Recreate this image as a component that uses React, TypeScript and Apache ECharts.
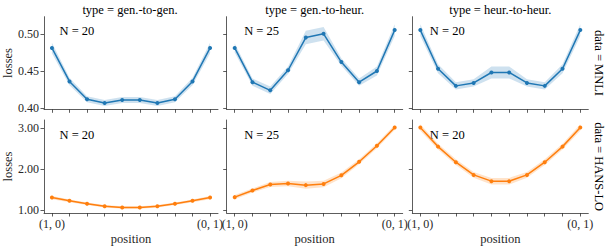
import React, { useEffect, useRef } from "react";
import * as echarts from "echarts";

// ---- data ----
const positions = [0, 1, 2, 3, 4, 5, 6, 7, 8, 9];
const xTickLabels = ["(1, 0)", "(0, 1)"];
const colTitles = ["type = gen.-to-gen.", "type = gen.-to-heur.", "type = heur.-to-heur."];
const rowTitles = ["data = MNLI", "data = HANS-LO"];
const nLabels = ["N = 20", "N = 25", "N = 20"];

const mnliTicks = [0.4, 0.45, 0.5];
const hansTicks = [1.0, 2.0, 3.0];

const mnliGenGen = [0.481, 0.436, 0.412, 0.407, 0.411, 0.411, 0.407, 0.412, 0.436, 0.481];
const mnliGenHeur = [0.481, 0.435, 0.424, 0.451, 0.495, 0.5, 0.462, 0.435, 0.45, 0.505];
const mnliHeurHeur = [0.505, 0.453, 0.43, 0.434, 0.448, 0.448, 0.434, 0.43, 0.453, 0.505];
const hansGenGen = [1.307, 1.227, 1.154, 1.097, 1.064, 1.064, 1.097, 1.154, 1.227, 1.307];
const hansGenHeur = [1.317, 1.48, 1.624, 1.65, 1.61, 1.64, 1.85, 2.18, 2.57, 3.015];
const hansHeurHeur = [3.015, 2.55, 2.17, 1.86, 1.707, 1.707, 1.86, 2.17, 2.55, 3.015];

// confidence band half-widths
const ciMnliGenGen = [0.007, 0.005, 0.004, 0.004, 0.004, 0.004, 0.004, 0.004, 0.005, 0.007];
const ciMnliGenHeur = [0.006, 0.005, 0.005, 0.005, 0.009, 0.009, 0.005, 0.005, 0.006, 0.008];
const ciMnliHeurHeur = [0.008, 0.006, 0.005, 0.005, 0.008, 0.008, 0.005, 0.005, 0.006, 0.008];
const ciHansGenGen = [0.04, 0.035, 0.03, 0.03, 0.03, 0.03, 0.03, 0.03, 0.035, 0.04];
const ciHansGenHeur = [0.05, 0.05, 0.06, 0.07, 0.09, 0.08, 0.07, 0.06, 0.06, 0.06];
const ciHansHeurHeur = [0.08, 0.07, 0.07, 0.07, 0.08, 0.08, 0.07, 0.07, 0.07, 0.08];

const panels = [
  { row: 0, col: 0, values: mnliGenGen, ci: ciMnliGenGen },
  { row: 0, col: 1, values: mnliGenHeur, ci: ciMnliGenHeur },
  { row: 0, col: 2, values: mnliHeurHeur, ci: ciMnliHeurHeur },
  { row: 1, col: 0, values: hansGenGen, ci: ciHansGenGen },
  { row: 1, col: 1, values: hansGenHeur, ci: ciHansGenHeur },
  { row: 1, col: 2, values: hansHeurHeur, ci: ciHansHeurHeur },
];

// ---- layout / style ----
const FONT = "'Liberation Serif', 'Times New Roman', serif";
const TXT = "#262626";
const AXIS = "#333333";
const colLeft = [42, 226.7, 412.3];
const colWidth = 176;
const rowTop = [16.7, 120];
const rowHeight = [92.6, 93.3];
const yRange = [
  [0.3985, 0.523],
  [0.93, 3.2],
];
const lineColors = ["#1f77b4", "#ff7f0e"];
const bandColors = ["rgba(31,119,180,0.22)", "rgba(255,127,14,0.22)"];

export default function App() {
  const ref = useRef<HTMLDivElement>(null);
  useEffect(() => {
    if (!ref.current) return;
    const chart = echarts.init(ref.current, undefined, { renderer: "svg" });

    const grid: any[] = [];
    const xAxis: any[] = [];
    const yAxis: any[] = [];
    const series: any[] = [];
    const graphic: any[] = [];

    panels.forEach((p, i) => {
      grid.push({
        left: colLeft[p.col],
        top: rowTop[p.row],
        width: colWidth,
        height: rowHeight[p.row],
        containLabel: false,
      });
      xAxis.push({
        type: "value",
        gridIndex: i,
        min: -0.45,
        max: 9.45,
        splitLine: { show: false },
        axisLine: { show: true, onZero: false, lineStyle: { color: AXIS, width: 0.8 } },
        axisTick: { show: true, customValues: positions, length: 3.5, lineStyle: { color: AXIS, width: 0.8 } },
        axisLabel: {
          show: p.row === 1,
          customValues: [positions[0], positions[positions.length - 1]],
          formatter: (v: number) => (v === positions[0] ? xTickLabels[0] : xTickLabels[1]),
          margin: 5,
          fontSize: 12,
          color: TXT,
          fontFamily: FONT,
        },
        name: p.row === 1 ? "position" : "",
        nameLocation: "middle",
        nameGap: 19,
        nameTextStyle: { fontSize: 12.5, color: TXT, fontFamily: FONT },
      });
      const ticks = p.row === 0 ? mnliTicks : hansTicks;
      yAxis.push({
        type: "value",
        gridIndex: i,
        min: yRange[p.row][0],
        max: yRange[p.row][1],
        splitLine: { show: false },
        axisLine: { show: true, onZero: false, lineStyle: { color: AXIS, width: 0.8 } },
        axisTick: { show: true, customValues: ticks, length: 3.5, lineStyle: { color: AXIS, width: 0.8 } },
        axisLabel: {
          show: p.col === 0,
          customValues: ticks,
          formatter: (v: number) => v.toFixed(2),
          margin: 5,
          fontSize: 12,
          color: TXT,
          fontFamily: FONT,
        },
        name: p.col === 0 ? "losses" : "",
        nameLocation: "middle",
        nameGap: 30,
        nameRotate: 90,
        nameTextStyle: { fontSize: 12.5, color: TXT, fontFamily: FONT },
      });
      const vals = p.values;
      const ci = p.ci;
      series.push({
        type: "custom",
        xAxisIndex: i,
        yAxisIndex: i,
        data: positions.map((x, j) => [x, vals[j] - ci[j], vals[j] + ci[j]]),
        encode: { x: 0, y: [1, 2] },
        silent: true,
        renderItem: (params: any, api: any) => {
          if (params.dataIndex !== 0) return null;
          const upper = positions.map((x, j) => api.coord([x, vals[j] + ci[j]]));
          const lower = positions.map((x, j) => api.coord([x, vals[j] - ci[j]])).reverse();
          return {
            type: "polygon",
            shape: { points: upper.concat(lower) },
            style: { fill: bandColors[p.row], stroke: "none" },
          };
        },
      });
      series.push({
        type: "line",
        xAxisIndex: i,
        yAxisIndex: i,
        data: positions.map((x, j) => [x, vals[j]]),
        symbol: "circle",
        symbolSize: 4,
        showSymbol: true,
        itemStyle: { color: lineColors[p.row] },
        lineStyle: { color: lineColors[p.row], width: 1.5 },
        silent: true,
        z: 3,
      });
      graphic.push({
        type: "text",
        left: colLeft[p.col] + 17.5,
        top: rowTop[p.row] + 8,
        style: { text: nLabels[p.col], fontSize: 12.5, fill: "#000", fontFamily: FONT },
      });
    });

    colTitles.forEach((t, c) => {
      graphic.push({
        type: "text",
        x: colLeft[c] + colWidth / 2,
        y: 10,
        style: { text: t, fontSize: 12.5, fill: "#000", fontFamily: FONT, align: "center", verticalAlign: "middle" },
      });
    });
    rowTitles.forEach((t, r) => {
      graphic.push({
        type: "text",
        x: 599,
        y: rowTop[r] + rowHeight[r] / 2,
        rotation: -Math.PI / 2,
        style: { text: t, fontSize: 12.5, fill: "#000", fontFamily: FONT, align: "center", verticalAlign: "middle" },
      });
    });

    chart.setOption({
      animation: false,
      backgroundColor: "#ffffff",
      grid,
      xAxis,
      yAxis,
      series,
      graphic,
    });
    return () => chart.dispose();
  }, []);
  return (
    <div
      ref={ref}
      style={{ position: "fixed", left: 0, top: 0, width: 609, height: 246 }}
    />
  );
}
